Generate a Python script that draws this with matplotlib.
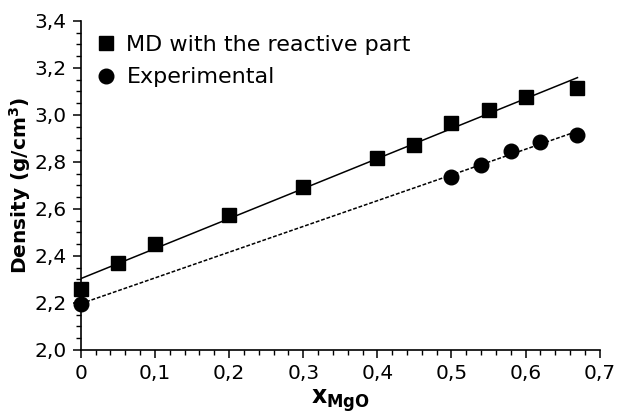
import numpy as np
import matplotlib
matplotlib.use("Agg")
from matplotlib import pyplot as plt
from matplotlib.ticker import MultipleLocator, FuncFormatter

# MD with the reactive part
x_md = [0.0, 0.05, 0.1, 0.2, 0.3, 0.4, 0.45, 0.5, 0.55, 0.6, 0.67]
rho_md = [2.26, 2.37, 2.45, 2.575, 2.695, 2.815, 2.87, 2.965, 3.02, 3.075, 3.115]
# experimental
x_exp = [0.0, 0.5, 0.54, 0.58, 0.62, 0.67]
rho_exp = [2.196, 2.736, 2.787, 2.847, 2.885, 2.915]

fig = plt.figure(figsize=(6.17, 4.16), dpi=100)
ax = fig.add_axes([0.131, 0.159, 0.841, 0.791])

# linear fits
xf = np.array([0.0, 0.67])
p_md = np.polyfit(x_md, rho_md, 1)
p_exp = np.polyfit(x_exp, rho_exp, 1)
ax.plot(xf, np.polyval(p_md, xf), color="black", lw=1.1)
ax.plot(xf, np.polyval(p_exp, xf), color="black", lw=1.1, ls=(0, (2.5, 1.2)))

ax.plot(x_md, rho_md, "s", color="black", ms=10.5, label="MD with the reactive part", clip_on=False)
ax.plot(x_exp, rho_exp, "o", color="black", ms=10.5, label="Experimental", clip_on=False)

ax.set_xlim(0, 0.7)
ax.set_ylim(2.0, 3.4)
ax.xaxis.set_major_locator(MultipleLocator(0.1))
ax.xaxis.set_minor_locator(MultipleLocator(0.02))
ax.yaxis.set_major_locator(MultipleLocator(0.2))
ax.yaxis.set_minor_locator(MultipleLocator(0.05))

def fmt_x(v, pos):
    if abs(v) < 1e-9:
        return "0"
    return ("%.1f" % v).replace(".", ",")

def fmt_y(v, pos):
    return ("%.1f" % v).replace(".", ",")

ax.xaxis.set_major_formatter(FuncFormatter(fmt_x))
ax.yaxis.set_major_formatter(FuncFormatter(fmt_y))

for s in ["top", "right"]:
    ax.spines[s].set_visible(False)
for s in ["left", "bottom"]:
    ax.spines[s].set_linewidth(1.2)
ax.tick_params(which="major", direction="out", length=6, width=1.1, labelsize=14.5, pad=4)
ax.tick_params(which="minor", direction="out", length=3.5, width=1.0)

ax.set_ylabel("Density (g/cm$^\\mathbf{3}$)", fontsize=14.5, fontweight="bold", labelpad=1)
ax.set_xlabel(r"$\mathbf{x_{MgO}}$", fontsize=17, labelpad=3)

ax.legend(loc="upper left", frameon=False, fontsize=16, handletextpad=0.4,
          borderaxespad=0.25, labelspacing=0.55, handlelength=1.0)

fig.savefig("out.png", dpi=100)
